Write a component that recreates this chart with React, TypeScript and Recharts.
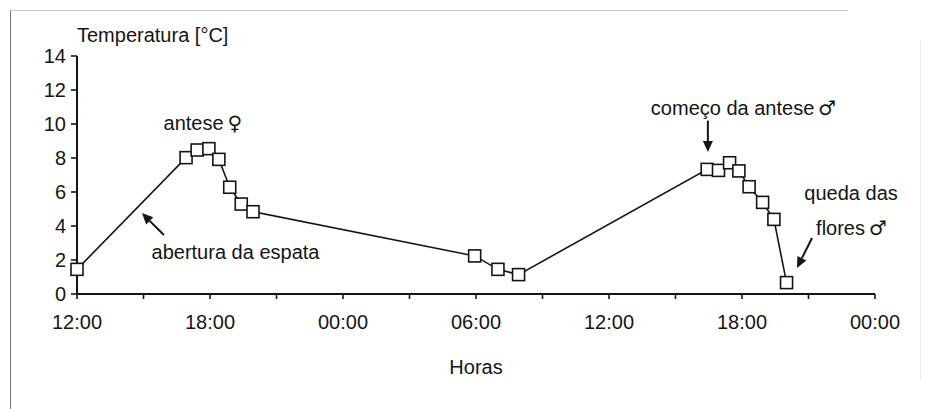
import { LineChart, Line, XAxis, YAxis, ReferenceDot, ReferenceLine } from "recharts";

// hours after the first 12:00, temperature difference in °C
const hours = [0, 4.92, 5.42, 5.95, 6.4, 6.89, 7.41, 7.94, 17.94, 18.99, 19.92, 28.43, 28.94, 29.44, 29.86, 30.32, 30.93, 31.44, 32.01];
const temps = [1.45, 8.02, 8.47, 8.55, 7.92, 6.28, 5.29, 4.84, 2.24, 1.45, 1.14, 7.33, 7.27, 7.72, 7.24, 6.31, 5.39, 4.39, 0.67];

const xTicks = [0, 3, 6, 9, 12, 15, 18, 21, 24, 27, 30, 33, 36];
const xTickLabels: Record<number, string> = {
  0: "12:00",
  6: "18:00",
  12: "00:00",
  18: "06:00",
  24: "12:00",
  30: "18:00",
  36: "00:00",
};
const yTicks = [0, 2, 4, 6, 8, 10, 12, 14];

// annotation texts: [hour, temp, text, symbol, anchor]
const notes: [number, number, string, string, "start" | "middle"][] = [
  [0, 15.24, "Temperatura [°C]", "", "start"],
  [5.68, 10.06, "antese", "♀", "middle"],
  [7.15, 2.47, "abertura da espata", "", "middle"],
  [30.07, 10.94, "começo da antese", "♂", "middle"],
  [34.92, 5.94, "queda das", "", "middle"],
  [34.94, 3.88, "flores", "♂", "middle"],
  [18.0, -4.29, "Horas", "", "middle"],
];

// arrows: [fromHour, fromTemp, toHour, toTemp]
const arrows: [number, number, number, number][] = [
  [3.92, 3.47, 2.93, 4.76],
  [28.46, 10.2, 28.46, 8.35],
  [33.16, 3.29, 32.48, 1.53],
];

const data = hours.map((h, i) => ({ h, t: temps[i] }));

const INK = "#151515";
const FONT = 20;

function SquareDot(props: any) {
  const { cx, cy } = props;
  if (cx == null || cy == null) return null;
  return <rect x={cx - 6} y={cy - 6} width={12} height={12} fill="#fff" stroke={INK} strokeWidth={1.6} />;
}

function Arrow(props: any) {
  const { x1, y1, x2, y2 } = props;
  const dx = x2 - x1;
  const dy = y2 - y1;
  const len = Math.sqrt(dx * dx + dy * dy) || 1;
  const ux = dx / len;
  const uy = dy / len;
  const hl = 11;
  const hw = 5;
  const bx = x2 - ux * hl;
  const by = y2 - uy * hl;
  return (
    <g>
      <line x1={x1} y1={y1} x2={bx} y2={by} stroke={INK} strokeWidth={2} />
      <polygon
        points={`${x2},${y2} ${bx - uy * hw},${by + ux * hw} ${bx + uy * hw},${by - ux * hw}`}
        fill={INK}
      />
    </g>
  );
}

export default function App() {
  return (
    <div
      style={{
        position: "absolute",
        left: 0,
        top: 0,
        width: 928,
        height: 409,
        background: "#fff",
        fontFamily: "'Liberation Sans', Arial, Helvetica, sans-serif",
      }}
    >
      <div style={{ position: "absolute", left: 10, top: 10, width: 1, height: 399, background: "#777" }} />
      <div style={{ position: "absolute", left: 10, top: 10, width: 838, height: 1, background: "#c4c4c4" }} />
      <div style={{ position: "absolute", left: 920, top: 40, width: 1, height: 340, background: "#ececec" }} />
      <LineChart width={928} height={409} data={data} margin={{ top: 56, right: 53, bottom: 75, left: 17 }}>
        <XAxis
          dataKey="h"
          type="number"
          domain={[0, 36]}
          ticks={xTicks}
          interval={0}
          tickFormatter={(v: number) => xTickLabels[v] ?? ""}
          tickSize={5}
          tickMargin={16}
          height={40}
          axisLine={{ stroke: INK, strokeWidth: 2 }}
          tickLine={{ stroke: INK, strokeWidth: 1.6 }}
          tick={{ fill: INK, fontSize: FONT }}
        />
        <YAxis
          type="number"
          domain={[0, 14]}
          ticks={yTicks}
          interval={0}
          width={60}
          tickSize={6}
          tickMargin={5}
          axisLine={{ stroke: INK, strokeWidth: 2 }}
          tickLine={{ stroke: INK, strokeWidth: 1.6 }}
          tick={{ fill: INK, fontSize: FONT }}
        />
        <Line
          dataKey="t"
          stroke={INK}
          strokeWidth={1.6}
          dot={<SquareDot />}
          activeDot={false}
          isAnimationActive={false}
        />
        {arrows.map(([a, b, c, d], i) => (
          <ReferenceLine
            key={`a${i}`}
            segment={[
              { x: a, y: b },
              { x: c, y: d },
            ]}
            ifOverflow="visible"
            shape={(p: any) => <Arrow {...p} />}
          />
        ))}
        {notes.map(([h, t, txt, sym, anchor], i) => (
          <ReferenceDot
            key={`n${i}`}
            x={h}
            y={t}
            r={0}
            ifOverflow="visible"
            shape={(p: any) => (
              <text
                x={p.cx}
                y={p.cy}
                textAnchor={anchor}
                dominantBaseline="central"
                fill={INK}
                fontSize={FONT}
              >
                {txt}
                {sym ? (
                  <tspan fontFamily="'DejaVu Sans'" fontSize={FONT} dx={4}>
                    {sym}
                  </tspan>
                ) : null}
              </text>
            )}
          />
        ))}
      </LineChart>
    </div>
  );
}
